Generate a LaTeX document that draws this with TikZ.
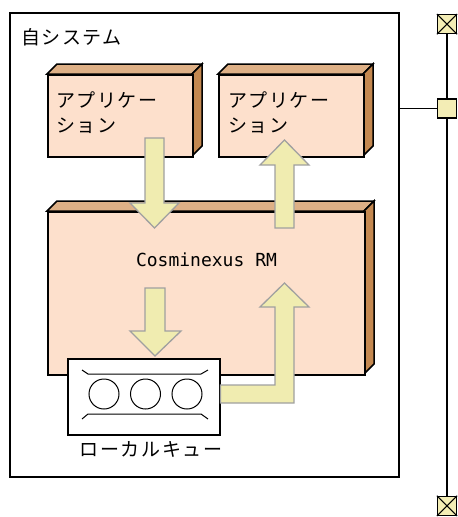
\documentclass[tikz,border=0pt]{standalone}
\usepackage{fontspec}
\newfontfamily\jp{Noto Sans CJK JP}[LetterSpace=8]
\newfontfamily\mono{DejaVu Sans Mono}
\definecolor{front}{HTML}{FDE0CC}
\definecolor{topc}{HTML}{DEB086}
\definecolor{sidec}{HTML}{C48850}
\definecolor{arrfill}{HTML}{F0ECB0}
\definecolor{arrline}{HTML}{A0A0A0}
\definecolor{busfill}{HTML}{F3EDB5}
\tikzset{
  line/.style={draw=black, line width=1.5pt},
  frontbox/.style={line, fill=front, inner sep=0pt},
  blockarrow/.style={fill=arrfill, draw=arrline, line width=1.3pt, line join=miter},
  jptext/.style={font=\jp\fontsize{19}{25}\selectfont, inner sep=0pt, align=left},
  busbox/.style={draw=black, line width=1.3pt, fill=busfill, minimum width=19pt, minimum height=19pt, inner sep=0pt},
}
\newcommand{\cuboidsides}[5]{%
  \filldraw[line, fill=topc] (#1,#2) -- ++(#5,-#5) -- (#3+#5,#2-#5) -- (#3,#2) -- cycle;
  \filldraw[line, fill=sidec] (#3,#2) -- (#3+#5,#2-#5) -- (#3+#5,#4-#5) -- (#3,#4) -- cycle;
}
\begin{document}
\begin{tikzpicture}[x=1pt,y=-1pt]
\useasboundingbox (0,0) rectangle (458,517);
% bus
\coordinate (busT) at (447,14);
\coordinate (busB) at (447,516);
\draw[line width=1.3pt] (busT) -- (busB);
\node[busbox, anchor=north] (b1) at (447,14) {};
\draw[line width=1pt] (b1.north west) -- (b1.south east) (b1.north east) -- (b1.south west);
\node[busbox, anchor=center] (b2) at (447,108.5) {};
\node[busbox, anchor=south] (b3) at (447,516) {};
\draw[line width=1pt] (b3.north west) -- (b3.south east) (b3.north east) -- (b3.south west);
% system box
\node[line, fill=white, minimum width=389pt, minimum height=464pt, anchor=north west, inner sep=0pt] (sys) at (9,12) {};
\draw[line width=1.3pt] (sys.east |- b2) -- (b2.west);
\node[jptext, anchor=west] (syslbl) at (21,37) {自システム};
% app 1
\cuboidsides{47}{74}{192}{156}{10}
\node[frontbox, minimum width=145pt, minimum height=82pt, anchor=north west] (app1) at (47,74) {};
\node[jptext, anchor=north west] (app1t) at (56,92) {アプリケー\\ション};
% app 2
\cuboidsides{218}{74}{363}{156}{10}
\node[frontbox, minimum width=145pt, minimum height=82pt, anchor=north west] (app2) at (218,74) {};
\node[jptext, anchor=north west] (app2t) at (228,92) {アプリケー\\ション};
% RM
\cuboidsides{47}{211}{364}{374}{10}
\node[frontbox, minimum width=317pt, minimum height=163pt, anchor=north west] (rm) at (47,211) {};
\node[font=\mono\fontsize{18}{22}\selectfont, inner sep=0pt] (rmt) at (206.5,260) {Cosminexus RM};
% queue
\node[line, fill=white, minimum width=152pt, minimum height=76pt, anchor=north west, inner sep=0pt] (q) at (67,358) {};
\draw[line width=1pt] (82,370) -- (88,374) -- (201,374) -- (208,370);
\draw[line width=1pt] (82,419) -- (88,414) -- (201,414) -- (208,419);
\foreach \cx/\nm in {104/c1,145.5/c2,187/c3}
  \node[draw, line width=1pt, circle, minimum size=30pt, inner sep=0pt] (\nm) at (\cx,394) {};
\node[jptext, anchor=center] (ql) at (151,449) {ローカルキュー};
% arrows
\filldraw[blockarrow] (145,138) -- (164,138) -- (164,203) -- (179,203) -- (154.5,228) -- (130,203) -- (145,203) -- cycle;
\filldraw[blockarrow] (275,228) -- (275,165) -- (260,165) -- (284.5,140) -- (309,165) -- (294,165) -- (294,228) -- cycle;
\filldraw[blockarrow] (145,288) -- (165,288) -- (165,331) -- (181,331) -- (155,356) -- (130,331) -- (145,331) -- cycle;
\filldraw[blockarrow] (q.east |- 0,385) -- (275,385) -- (275,307) -- (260,307) -- (284.5,283) -- (309,307) -- (294,307) -- (294,403) -- (q.east |- 0,403) -- cycle;
\end{tikzpicture}
\end{document}
